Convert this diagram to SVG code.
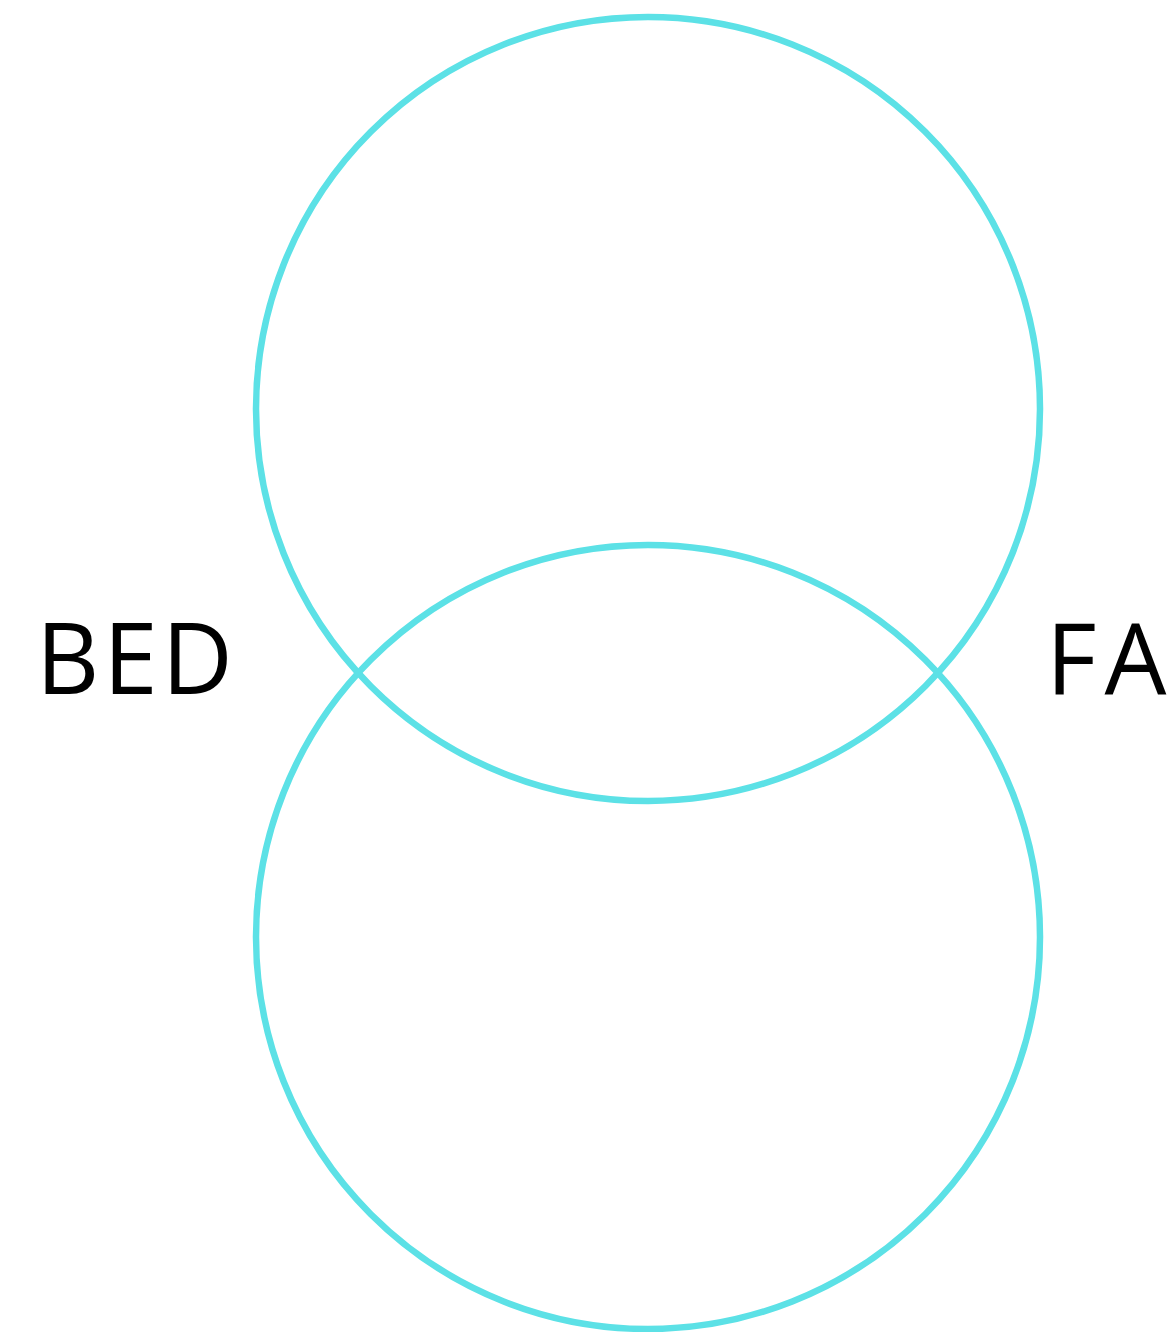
<svg xmlns="http://www.w3.org/2000/svg" width="1172" height="1332" viewBox="0 0 1172 1332">
<style>
.c{fill:none;stroke:#5ce1e6;stroke-width:6.5}
.t{font-family:"Open Sans",sans-serif;font-size:98px;fill:#000}
</style>
<rect width="1172" height="1332" fill="#fff"/>
<g id="circle-top"><circle class="c" cx="648" cy="409" r="392"/></g>
<g id="circle-bottom"><circle class="c" cx="648" cy="937" r="392"/></g>
<g id="label-bed"><text class="t" x="36" y="694" letter-spacing="4">BED</text></g>
<g id="label-fa"><text class="t" x="1046" y="694" letter-spacing="8">FA</text></g>
</svg>
